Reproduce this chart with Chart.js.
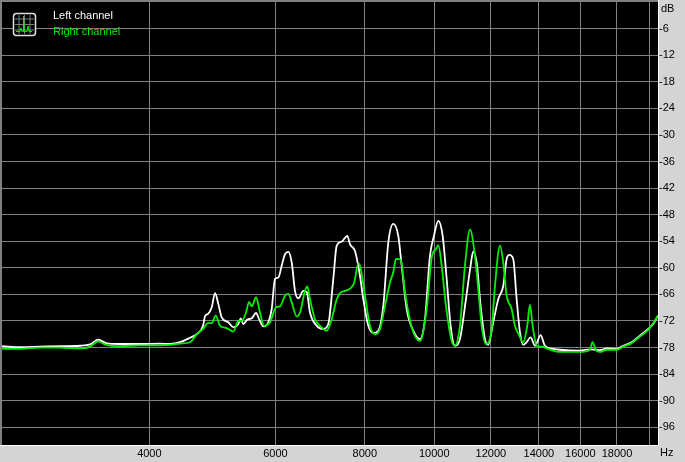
<!DOCTYPE html>
<html>
<head>
<meta charset="utf-8">
<script src="https://cdn.jsdelivr.net/npm/chart.js@4/dist/chart.umd.min.js"></script>
<style>
  html, body { margin: 0; padding: 0; background: #d4d4d4; }
  canvas { display: block; }
</style>
</head>
<body>
<canvas id="spectrum" width="685" height="462"></canvas>
<script>
// frequency (Hz) / level (dB)
var leftFreq = [2491, 2639, 2814, 3002, 3201, 3306, 3392, 3480, 3640, 3882, 4140, 4276, 4415, 4559, 4658, 4754, 4785, 4831, 4889, 4941, 4994, 5048, 5157, 5240, 5325, 5367, 5412, 5482, 5560, 5637, 5697, 5771, 5865, 5929, 5992, 6056, 6123, 6188, 6254, 6323, 6390, 6458, 6563, 6636, 6706, 6853, 7000, 7113, 7228, 7308, 7426, 7561, 7627, 7750, 7876, 7960, 8089, 8220, 8353, 8489, 8627, 8766, 8908, 9006, 9152, 9348, 9552, 9707, 9864, 9991, 10131, 10275, 10408, 10542, 10690, 10862, 11074, 11242, 11337, 11462, 11610, 11772, 11897, 12090, 12286, 12486, 12623, 12729, 12893, 13036, 13175, 13315, 13461, 13636, 13826, 14081, 14277, 14663, 14983, 15978, 16500, 16821, 17040, 17411, 17980, 18366, 18868, 19379, 19903, 20226, 20534];
var leftDb = [-77.7, -77.9, -77.8, -77.7, -77.6, -77.3, -76.2, -77.0, -77.2, -77.2, -77.1, -77.2, -76.8, -75.8, -75.0, -73.1, -70.9, -70.4, -68.9, -65.7, -68.2, -71.2, -72.3, -73.4, -72.7, -71.4, -72.7, -71.7, -71.4, -70.2, -71.7, -73.2, -72.3, -69.3, -62.5, -62.2, -59.5, -56.9, -56.4, -58.8, -65.2, -66.9, -65.2, -65.5, -70.1, -73.1, -73.8, -72.7, -62.5, -55.0, -54.1, -52.8, -54.7, -56.2, -61.8, -67.1, -73.1, -74.7, -74.2, -68.6, -54.3, -50.1, -52.8, -59.5, -69.3, -74.2, -76.1, -71.6, -57.3, -52.8, -49.4, -52.8, -62.5, -73.1, -77.6, -76.1, -67.1, -59.5, -56.3, -58.8, -68.6, -76.1, -77.4, -72.3, -67.1, -64.1, -58.0, -57.1, -58.0, -67.1, -74.6, -77.4, -76.8, -75.7, -77.6, -75.2, -77.6, -78.3, -78.5, -78.7, -78.4, -78.5, -78.6, -78.2, -78.3, -77.6, -76.8, -75.3, -73.8, -72.7, -70.8];

var rightFreq = [2491, 2639, 2814, 3002, 3201, 3306, 3392, 3480, 3640, 3882, 4140, 4276, 4415, 4559, 4658, 4754, 4831, 4889, 4952, 5021, 5130, 5240, 5325, 5384, 5459, 5512, 5560, 5637, 5710, 5784, 5897, 6012, 6090, 6188, 6254, 6323, 6426, 6494, 6599, 6648, 6706, 6815, 6926, 7076, 7191, 7308, 7385, 7505, 7627, 7733, 7833, 7876, 8004, 8133, 8265, 8399, 8536, 8674, 8766, 8843, 8978, 9102, 9300, 9552, 9760, 9918, 10056, 10131, 10242, 10384, 10576, 10690, 10862, 11039, 11218, 11400, 11521, 11648, 11810, 12029, 12157, 12354, 12486, 12623, 12828, 12964, 13145, 13315, 13487, 13605, 13724, 13902, 14126, 14355, 14983, 15978, 16500, 16644, 16821, 17040, 17411, 17980, 18366, 18868, 19379, 19903, 20226, 20534];
var rightDb = [-78.3, -78.3, -78.0, -78.0, -78.2, -77.8, -76.6, -77.4, -77.7, -77.5, -77.5, -77.4, -77.1, -76.8, -75.0, -73.8, -72.5, -72.5, -70.8, -73.1, -73.6, -74.4, -72.0, -72.0, -70.1, -67.7, -68.7, -66.7, -70.1, -73.1, -72.3, -68.9, -68.7, -66.3, -65.9, -67.8, -71.0, -70.1, -65.2, -64.2, -67.1, -71.6, -73.1, -74.2, -71.6, -67.1, -65.7, -65.2, -64.7, -63.3, -59.0, -59.5, -66.3, -73.1, -75.0, -73.8, -68.6, -63.3, -61.0, -58.0, -58.2, -65.5, -73.4, -76.5, -69.3, -57.7, -55.8, -54.9, -59.5, -68.6, -76.5, -77.6, -73.1, -59.5, -51.4, -57.3, -64.8, -73.1, -77.2, -73.8, -64.1, -55.0, -58.8, -66.3, -69.3, -73.1, -75.3, -76.8, -73.1, -68.4, -73.1, -77.6, -77.8, -78.2, -79.0, -79.0, -78.5, -76.8, -78.6, -79.0, -78.5, -78.5, -77.8, -77.0, -75.5, -74.0, -72.5, -70.8];

var seriesNames = ['Left channel', 'Right channel'];
var xTicks = [4000, 6000, 8000, 10000, 12000, 14000, 16000, 18000, 20000];
var xTickLabels = ['4000', '6000', '8000', '10000', '12000', '14000', '16000', '18000', ''];
var yTicks = [-6, -12, -18, -24, -30, -36, -42, -48, -54, -60, -66, -72, -78, -84, -90, -96];

var FONT = '"Liberation Sans", Arial, sans-serif';
var WHITE = '#ffffff';
var GREEN = '#00f000';

function pts(fs, ds) {
  return fs.map(function (f, i) { return { x: f, y: ds[i] }; });
}

// black plot area, sunken frame, legend box and unit labels
var analyserPlugin = {
  id: 'analyser',
  beforeDraw: function (chart) {
    var c = chart.ctx, a = chart.chartArea;
    c.save();
    c.fillStyle = '#d4d4d4';
    c.fillRect(0, 0, chart.width, chart.height);
    c.fillStyle = '#000000';
    c.fillRect(a.left, a.top, a.right - a.left, a.bottom - a.top);
    c.restore();
  },
  afterDraw: function (chart) {
    var c = chart.ctx, a = chart.chartArea;
    c.save();
    // frame
    c.fillStyle = '#808080';
    c.fillRect(0, 0, a.right, 2);
    c.fillRect(0, 0, 2, a.bottom);
    c.fillStyle = '#ffffff';
    c.fillRect(0, a.bottom, a.right + 1, 1);
    c.fillRect(a.right, 0, 1, a.bottom + 1);

    // legend icon
    var ix = 13, iy = 13, iw = 22, ih = 22;
    c.fillStyle = '#000';
    c.strokeStyle = '#e0e0e0';
    c.lineWidth = 1.5;
    c.beginPath();
    c.roundRect(ix + 0.5, iy + 0.5, iw, ih, 3);
    c.fill();
    c.stroke();
    c.strokeStyle = '#808080';
    c.lineWidth = 1;
    for (var g = 1; g < 4; g++) {
      c.beginPath();
      c.moveTo(ix + 2, iy + 0.5 + g * 5.5);
      c.lineTo(ix + iw - 1, iy + 0.5 + g * 5.5);
      c.moveTo(ix + 0.5 + g * 5.5, iy + 2);
      c.lineTo(ix + 0.5 + g * 5.5, iy + ih - 1);
      c.stroke();
    }
    c.strokeStyle = GREEN;
    c.beginPath();
    c.moveTo(ix + 3, iy + 18.5);
    c.lineTo(ix + 7, iy + 18.5);
    c.lineTo(ix + 8, iy + 15);
    c.lineTo(ix + 9, iy + 18.5);
    c.lineTo(ix + 10.5, iy + 18.5);
    c.lineTo(ix + 10.5, iy + 3);
    c.lineTo(ix + 11.5, iy + 18.5);
    c.lineTo(ix + 14, iy + 18.5);
    c.lineTo(ix + 15, iy + 13);
    c.lineTo(ix + 16, iy + 18.5);
    c.lineTo(ix + 19, iy + 18.5);
    c.stroke();

    // legend text
    c.font = '11px ' + FONT;
    c.textBaseline = 'middle';
    c.textAlign = 'left';
    c.fillStyle = WHITE;
    c.fillText(seriesNames[0], 53, 15.5);
    c.fillStyle = GREEN;
    c.fillText(seriesNames[1], 53, 31.5);

    // units
    c.fillStyle = '#000';
    c.fillText('dB', a.right + 3, 9);
    c.fillText('Hz', a.right + 2, 453);
    c.restore();
  }
};

var ctx = document.getElementById('spectrum').getContext('2d');
var spectrumChart = new Chart(ctx, {
  type: 'line',
  data: {
    datasets: [{
      label: seriesNames[0],
      data: pts(leftFreq, leftDb),
      borderColor: WHITE,
      order: 2
    }, {
      label: seriesNames[1],
      data: pts(rightFreq, rightDb),
      borderColor: GREEN,
      order: 1
    }]
  },
  options: {
    responsive: false,
    animation: false,
    layout: { padding: { left: 2, top: 2, right: 0, bottom: 0 } },
    elements: {
      point: { radius: 0 },
      line: { borderWidth: 1.8, cubicInterpolationMode: 'monotone', fill: false }
    },
    plugins: { legend: { display: false }, tooltip: { enabled: false } },
    scales: {
      x: {
        type: 'logarithmic',
        min: 2490,
        max: 20540,
        afterBuildTicks: function (s) { s.ticks = xTicks.map(function (v) { return { value: v }; }); },
        afterFit: function (s) { s.height = 17; s.paddingLeft = 0; s.paddingRight = 0; },
        grid: { color: '#808080', lineWidth: 1, drawTicks: false },
        border: { display: false },
        ticks: {
          color: '#000',
          font: { family: FONT, size: 11 },
          padding: 2,
          maxRotation: 0,
          autoSkip: false,
          callback: function (v, i) { return xTickLabels[i]; }
        }
      },
      y: {
        position: 'right',
        min: -100,
        max: 0,
        afterBuildTicks: function (s) { s.ticks = yTicks.map(function (v) { return { value: v }; }); },
        afterFit: function (s) { s.width = 27; s.paddingTop = 0; s.paddingBottom = 0; },
        grid: { color: '#808080', lineWidth: 1, drawTicks: false },
        border: { display: false },
        ticks: {
          color: '#000',
          font: { family: FONT, size: 11 },
          padding: 1,
          callback: function (v) { return String(v); }
        }
      }
    }
  },
  plugins: [analyserPlugin]
});
</script>
</body>
</html>
